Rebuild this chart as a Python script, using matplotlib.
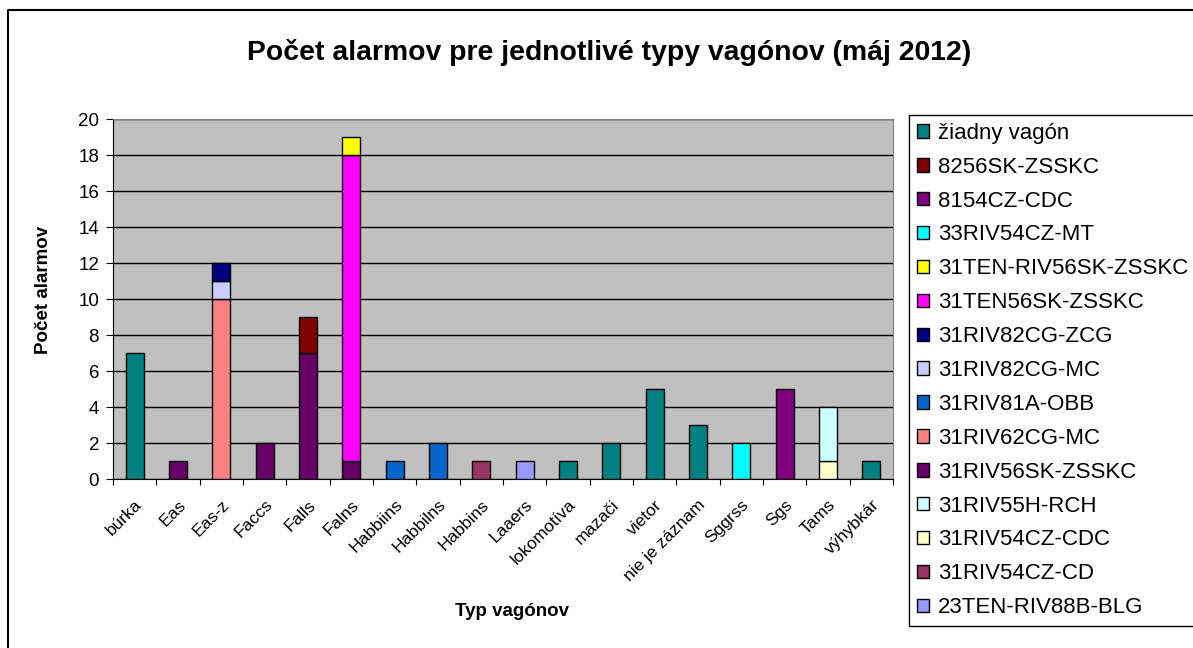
import numpy as np
import matplotlib
matplotlib.use("Agg")
import matplotlib.pyplot as plt
from matplotlib.patches import Patch
from matplotlib.lines import Line2D

plt.rcParams['font.family'] = ['Liberation Sans', 'DejaVu Sans']

# categories on the x axis
categories = ['búrka', 'Eas', 'Eas-z', 'Faccs', 'Falls', 'Falns', 'Habbiins',
              'Habbilns', 'Habbins', 'Laaers', 'lokomotíva', 'mazači', 'vietor',
              'nie je záznam', 'Sggrss', 'Sgs', 'Tams', 'výhybkár']

# series, in stacking order (bottom first)
s_23TEN_RIV88B_BLG    = [0, 0, 0, 0, 0, 0, 0, 0, 0, 1, 0, 0, 0, 0, 0, 0, 0, 0]
s_31RIV54CZ_CD        = [0, 0, 0, 0, 0, 0, 0, 0, 1, 0, 0, 0, 0, 0, 0, 0, 0, 0]
s_31RIV54CZ_CDC       = [0, 0, 0, 0, 0, 0, 0, 0, 0, 0, 0, 0, 0, 0, 0, 0, 1, 0]
s_31RIV55H_RCH        = [0, 0, 0, 0, 0, 0, 0, 0, 0, 0, 0, 0, 0, 0, 0, 0, 3, 0]
s_31RIV56SK_ZSSKC     = [0, 1, 0, 2, 7, 1, 0, 0, 0, 0, 0, 0, 0, 0, 0, 0, 0, 0]
s_31RIV62CG_MC        = [0, 0, 10, 0, 0, 0, 0, 0, 0, 0, 0, 0, 0, 0, 0, 0, 0, 0]
s_31RIV81A_OBB        = [0, 0, 0, 0, 0, 0, 1, 2, 0, 0, 0, 0, 0, 0, 0, 0, 0, 0]
s_31RIV82CG_MC        = [0, 0, 1, 0, 0, 0, 0, 0, 0, 0, 0, 0, 0, 0, 0, 0, 0, 0]
s_31RIV82CG_ZCG       = [0, 0, 1, 0, 0, 0, 0, 0, 0, 0, 0, 0, 0, 0, 0, 0, 0, 0]
s_31TEN56SK_ZSSKC     = [0, 0, 0, 0, 0, 17, 0, 0, 0, 0, 0, 0, 0, 0, 0, 0, 0, 0]
s_31TEN_RIV56SK_ZSSKC = [0, 0, 0, 0, 0, 1, 0, 0, 0, 0, 0, 0, 0, 0, 0, 0, 0, 0]
s_33RIV54CZ_MT        = [0, 0, 0, 0, 0, 0, 0, 0, 0, 0, 0, 0, 0, 0, 2, 0, 0, 0]
s_8154CZ_CDC          = [0, 0, 0, 0, 0, 0, 0, 0, 0, 0, 0, 0, 0, 0, 0, 5, 0, 0]
s_8256SK_ZSSKC        = [0, 0, 0, 0, 2, 0, 0, 0, 0, 0, 0, 0, 0, 0, 0, 0, 0, 0]
s_ziadny_vagon        = [7, 0, 0, 0, 0, 0, 0, 0, 0, 0, 1, 2, 5, 3, 0, 0, 0, 1]

series = [
    ('23TEN-RIV88B-BLG', s_23TEN_RIV88B_BLG, '#9999FF'),
    ('31RIV54CZ-CD', s_31RIV54CZ_CD, '#993366'),
    ('31RIV54CZ-CDC', s_31RIV54CZ_CDC, '#FFFFCC'),
    ('31RIV55H-RCH', s_31RIV55H_RCH, '#CCFFFF'),
    ('31RIV56SK-ZSSKC', s_31RIV56SK_ZSSKC, '#660066'),
    ('31RIV62CG-MC', s_31RIV62CG_MC, '#FF8080'),
    ('31RIV81A-OBB', s_31RIV81A_OBB, '#0066CC'),
    ('31RIV82CG-MC', s_31RIV82CG_MC, '#CCCCFF'),
    ('31RIV82CG-ZCG', s_31RIV82CG_ZCG, '#000080'),
    ('31TEN56SK-ZSSKC', s_31TEN56SK_ZSSKC, '#FF00FF'),
    ('31TEN-RIV56SK-ZSSKC', s_31TEN_RIV56SK_ZSSKC, '#FFFF00'),
    ('33RIV54CZ-MT', s_33RIV54CZ_MT, '#00FFFF'),
    ('8154CZ-CDC', s_8154CZ_CDC, '#800080'),
    ('8256SK-ZSSKC', s_8256SK_ZSSKC, '#800000'),
    ('žiadny vagón', s_ziadny_vagon, '#008080'),
]

W, H = 1193, 648
fig = plt.figure(figsize=(W / 100, H / 100), dpi=100)
ax = fig.add_axes([113 / W, 1 - 479 / H, 780 / W, 360 / H])
ax.set_facecolor('#C0C0C0')

x = np.arange(len(categories))
bottom = np.zeros(len(categories))
handles = []
for name, vals, col in series:
    vals = np.array(vals, dtype=float)
    mask = vals > 0
    ax.bar(x[mask], vals[mask], bottom=bottom[mask], width=0.42, color=col,
           edgecolor='black', linewidth=1.0, zorder=3)
    bottom += vals
    handles.append(Patch(facecolor=col, edgecolor='black', linewidth=1.0, label=name))

ax.set_xlim(-0.5, len(categories) - 0.5)
ax.set_ylim(0, 20)
ax.set_yticks(range(0, 21, 2))
ax.yaxis.grid(True, color='black', linewidth=1.0, zorder=1)
ax.set_axisbelow(True)

# ticks between categories, labels at centres
ax.set_xticks(np.arange(-0.5, len(categories), 1.0))
ax.set_xticklabels([])
ax.set_xticks(x, minor=True)
ax.set_xticklabels(categories, minor=True, rotation=45, ha='right',
                   rotation_mode='anchor', fontsize=12.5)
ax.tick_params(axis='x', which='minor', length=0, pad=13)
ax.tick_params(axis='x', which='major', length=4, direction='out', color='black')
ax.tick_params(axis='y', length=5, direction='out', labelsize=13.5, pad=5)

for side in ['top', 'right']:
    ax.spines[side].set_color('#808080')
for side in ['left', 'bottom']:
    ax.spines[side].set_color('black')

fig.text(44 / W, 1 - 290 / H, 'Počet alarmov', rotation=90, ha='center',
         va='center', fontsize=13.5, fontweight='bold')
fig.text(512 / W, 1 - 612 / H, 'Typ vagónov', ha='center', va='center',
         fontsize=13.5, fontweight='bold')
fig.text(609 / W, 1 - 52 / H, 'Počet alarmov pre jednotlivé typy vagónov (máj 2012)',
         ha='center', va='center', fontsize=20.4, fontweight='bold')

leg = fig.legend(handles=handles[::-1], loc='upper left',
                 bbox_to_anchor=(909 / W, 1 - 115 / H), borderaxespad=0,
                 fontsize=16, handlelength=0.55, handleheight=0.55,
                 handletextpad=0.4, labelspacing=0.58, borderpad=0.35,
                 fancybox=False, edgecolor='black', framealpha=1)
leg.get_frame().set_linewidth(1.0)

# chart frame: only the top and left edges fall inside the picture
fig.add_artist(Line2D([8 / W, 8 / W, 1.0], [0.0, 1 - 10 / H, 1 - 10 / H],
                      transform=fig.transFigure, color='black', linewidth=1.5))

fig.savefig('out.png', dpi=100)
